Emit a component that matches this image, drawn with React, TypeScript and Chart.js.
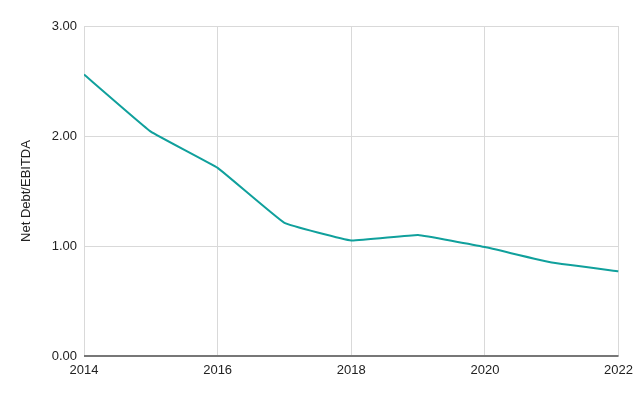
import React, { useEffect, useRef } from "react";
import { Chart, registerables } from "chart.js";

Chart.register(...registerables);

const years = [2014, 2015, 2016, 2017, 2018, 2019, 2020, 2021, 2022];
const netDebtEbitda = [2.56, 2.04, 1.71, 1.21, 1.05, 1.1, 0.99, 0.85, 0.77];
const yTickMin = 0;
const yTickMax = 3;
const yTickStep = 1;
const xTickStep = 2;
const yAxisTitle = "Net Debt/EBITDA";

export default function App() {
  const ref = useRef<HTMLCanvasElement | null>(null);
  useEffect(() => {
    if (!ref.current) return;
    const font = { family: "Liberation Sans, Arial", size: 13 };
    const chart = new Chart(ref.current, {
      type: "line",
      data: {
        datasets: [
          {
            data: years.map((y, i) => ({ x: y, y: netDebtEbitda[i] })),
            borderColor: "#10a09c",
            borderWidth: 2,
            pointRadius: 0,
            tension: 0.08,
            borderJoinStyle: "round",
            fill: false,
          },
        ],
      },
      options: {
        animation: false,
        responsive: false,
        maintainAspectRatio: false,
        layout: { padding: { left: 0, right: 20, top: 26, bottom: 0 } },
        plugins: { legend: { display: false }, tooltip: { enabled: false } },
        scales: {
          x: {
            type: "linear",
            min: years[0],
            max: years[years.length - 1],
            border: { display: false },
            grid: { color: "#d9d9d9", lineWidth: 1, drawTicks: false },
            ticks: {
              stepSize: xTickStep,
              padding: 7,
              color: "#222",
              font,
              callback: (v: any) => String(v),
              maxRotation: 0,
            },
            afterFit: (s: any) => {
              s.height = 40;
            },
          },
          y: {
            min: yTickMin,
            max: yTickMax,
            border: { display: false },
            grid: {
              color: (ctx: any) => (ctx.tick && ctx.tick.value === 0 ? "#777" : "#d9d9d9"),
              lineWidth: (ctx: any) => (ctx.tick && ctx.tick.value === 0 ? 2 : 1),
              drawTicks: false,
            },
            ticks: {
              stepSize: yTickStep,
              padding: 7,
              color: "#222",
              font,
              callback: (v: any) => Number(v).toFixed(2),
            },
            title: {
              display: true,
              text: yAxisTitle,
              color: "#222",
              font,
              padding: { top: 19, bottom: 0 },
            },
            afterFit: (s: any) => {
              s.width = 84;
            },
          },
        },
      },
    });
    return () => chart.destroy();
  }, []);
  return (
    <div style={{ position: "fixed", left: 0, top: 0, width: 640, height: 396, background: "#fff" }}>
      <canvas ref={ref} width={640} height={396} style={{ width: 640, height: 396 }} />
    </div>
  );
}
